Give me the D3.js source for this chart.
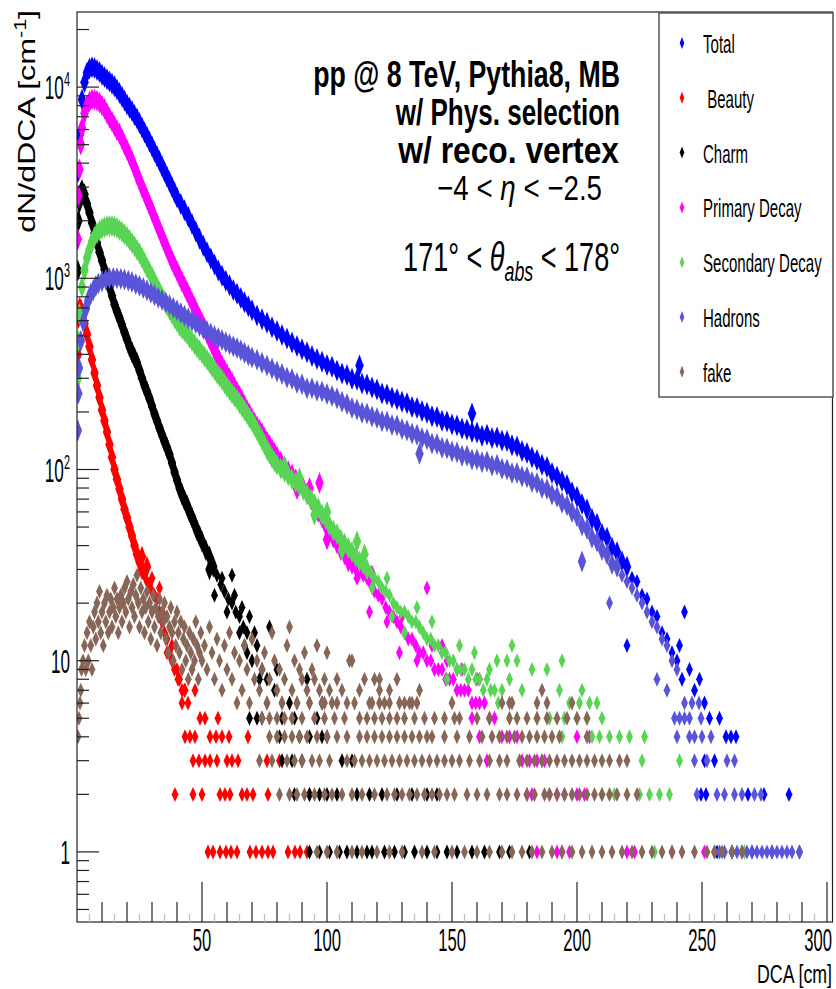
<!DOCTYPE html>
<html>
<head>
<meta charset="utf-8">
<script src="https://cdn.jsdelivr.net/npm/d3@7"></script>
<style>
  body { margin: 0; background: #fff; }
  svg { display: block; font-family: "Liberation Sans", Arial, sans-serif; }
</style>
</head>
<body>
<svg id="chart" width="836" height="989"></svg>
<script>
// legend order = drawing order
const seriesNames = ["Total", " Beauty", "Charm", "Primary Decay", "Secondary Decay", "Hadrons", "fake"];
const seriesColors = ["#0000ff", "#ff0000", "#000000", "#ff00ff", "#59d454", "#5954d8", "#876657"];

// [DCA (cm), dN/dDCA]
const totalPts = [[0.3,3600],[1,5600],[2,8600],[3,10600],[4,11900],[5,12500],[6,12700],[7,12600],[8,12300],[9,12000],[10,11600],[11,11300],[12,11000],[13,10700],[14,10400],[15,10100],[16,9700],[17,9300],[18,8900],[19,8500],[20,8100],[21,7800],[22,7500],[23,7150],[24,6850],[25,6500],[26,6150],[27,5800],[28,5500],[29,5200],[30,4900],[31,4600],[32,4350],[33,4100],[34,3850],[35,3620],[36,3400],[37,3200],[38,3000],[39,2820],[40,2650],[41.5,2450],[43,2270],[44.5,2100],[46,1920],[47.5,1760],[49,1610],[50.5,1480],[52,1370],[53.5,1270],[55,1180],[56.5,1100],[58,1030],[59.5,970],[61,920],[62.5,870],[64,830],[65.5,790],[67,750],[68.5,715],[70,680],[72,640],[74,610],[76,585],[78,555],[80,530],[82,505],[84,485],[86,462],[88,442],[90,425],[92,410],[94,392],[96,378],[98,366],[100,352],[102,345],[104,330],[106,318],[108,312],[110,298],[112,295],[113,350],[114,282],[116,278],[118,268],[120,262],[122,250],[124,247],[126,238],[128,233],[130,226],[132,222],[134,212],[136,210],[138,202],[140,198],[142,190],[144,188],[146,180],[148,178],[150,172],[152,170],[154,164],[156,162],[158,157],[158,196],[160,156],[162,150],[164,152],[166,146],[168,147],[170,142],[172,141],[174,134],[176,132],[178,125],[180,122],[182,116],[184,112],[186,106],[188,103],[190,96],[192,92],[194,87],[196,83],[198,76],[200,72],[202,66],[204,62],[206,55],[208,52],[210,46],[212,44],[214,39],[216,37],[218,33],[220,31],[220,12],[222,27],[224,26],[226,22],[228,21],[230,18],[232,17],[234,14],[236,13],[238,11],[240,10],
  [241,12],[243,18],[242,8],[245,9],[247,7],[249,8],[251,6],[253,5],[257,5],[259.6,4],[261.6,4],[263.6,4],[251,3],[255,3],[249.6,2],[251.6,2],[268.4,2],[274.8,2],[284.8,2],[256,1],[262,1],[270,1],[278,1],[289,1]];

const beautyPts = [[0.3,400],[0.6,620],[1,700],[1.5,690],[2,650],[3,580],[4,510],[5,440],[6,375],[7,320],[8,275],[9,238],[10,205],[11,180],[12,157],[13,135],[14,116],[15,100],[16,89],[17,79],[18,70],[19,62],[20,56],[21,50],[22,45],[23,40],[24,36],[25,33],[26,30],[26,35],[27,28],[28,26],[28,31],[29,25],[30,23],[30,27],[31,22],[32,21],[33,18],[33,24],[34,16],[35,14],[35,17],[36,13],[36,11],[37,11],[38,10],[38,12],[39,9],[40,9],[40.4,8],[41,8],[42,7],[43,7],
  [42,6],[44.4,6],[43.2,7],[47.2,7],[49.2,5],[51.2,5],[56.4,5],
  [43.2,4],[45.2,4],[47.2,4],[53.2,4],[55.6,4],[58,4],[60.8,4],[68.4,4],
  [46.4,3],[48.8,3],[51.2,3],[53.2,3],[56,3],[60,3],[62,3],[64.4,3],[76,3],[81,3],
  [39.2,2],[46.4,2],[50,2],[57.2,2],[59.2,2],[61.2,2],[66,2],[68,2],[70.4,2],[76.4,2],[93,2],
  [52.4,1],[54.4,1],[57.2,1],[59.6,1],[61.6,1],[64,1],[69.2,1],[71.6,1],[74,1],[76.4,1],[78.4,1],[84.4,1],[87.2,1],[89.2,1],[92,1]];

const charmPts = [[0.3,1100],[0.6,2000],[1,2500],[1.5,2800],[2,2900],[3,2750],[4,2450],[5,2200],[6,1950],[7,1720],[8,1530],[9,1370],[10,1240],[11,1110],[12,1000],[13,900],[14,810],[15,730],[16,670],[17,620],[18,570],[19,520],[20,480],[21,440],[22,410],[23,385],[24,360],[25,330],[26,300],[27,275],[28,255],[29,235],[30,215],[31,195],[32,180],[33,165],[34,152],[35,140],[36,130],[37,120],[38,108],[39,97],[40,88],[41,80],[42,74],[43,69],[44,65],[45,60],[46,56],[47,52],[48,48],[49,45],[50,42],[51.5,38],[53,35],[53,30],[54.5,31],[55,22],[56,28],[57.5,25],[58,27],[59,23],[60,18],[60.5,21],[62,20],[62,28],[63,22],[63.5,18],[65,17],[65,14],[66,19],[66.5,15],[67,12],[68,14],[69,17],[70,10],[71,14],[72,12],[73,8],
  [77,15],[68,11],[74,9],[76,8],[79,7],[80,9],[92,8],[85,6],[98,6],[69,5],[72,5],[74,5],[82,5],[87,5],[96,5],[81,4],[89,4],[93,4],[98,4],[100,4],
  [82,3],[86,3],[90,3],[106,3],[110,3],
  [87,2],[93,2],[97,2],[100,2],[104,2],[112,2],[117,2],[122,2],[128,2],[134,2],[140,2],[144,2],
  [93,1],[97,1],[101,1],[105,1],[108,1],[112,1],[116,1],[118,1],[123,1],[127,1],[131,1],[135,1],[140,1],[144,1],[148,1],[152,1],[158,1],[163,1],[169,1],[173,1],[181,1]];

const primaryPts = [[0.3,1600],[0.6,2700],[1,3700],[1.5,5000],[2,6100],[3,7300],[4,8000],[5,8400],[6,8600],[7,8600],[8,8500],[9,8300],[10,8000],[11,7700],[12,7300],[13,6900],[14,6600],[15,6250],[16,5950],[17,5700],[18,5350],[19,5000],[20,4700],[21,4400],[22,4100],[23,3800],[24,3500],[25,3250],[26,3000],[27,2800],[28,2600],[29,2420],[30,2250],[31,2080],[32,1930],[33,1790],[34,1660],[35,1540],[36,1430],[37,1330],[38,1240],[39,1160],[40,1090],[41,1020],[42,960],[43,905],[44,850],[45,800],[46,750],[47,705],[48,660],[49,620],[50,585],[51,550],[52,515],[53,482],[54,450],[55,420],[56,395],[57,372],[58,350],[59,332],[60,315],[61,300],[62,285],[63,270],[64,255],[65,242],[66,230],[67,217],[68,205],[69,195],[70,185],[71,176],[72,168],[73,161],[74,155],[75,147],[76,140],[77,134],[78,128],[79,122],[80,117],[81.5,110],[83,104],[84.5,98],[86,94],[87.5,89],[88,79],[89,85],[90.5,80],[92,75],[93,80],[93.5,70],[95,64],[96.5,60],[97,85],[98,56],[99.5,51],[100,43],[101,47],[102.5,44],[104,41],[105.5,38],[106,41],[107,36],[108.5,33],[110,32],[111.5,31],[112,27],[113,30],[114.5,28],[116,27],[117,18],[117.5,25],[118,29],[119,23],[120.5,22],[122,21],[123.5,19],[124,16],[125,18],[126.5,17],[128,16],[129,11],[129.5,15],[130,17],[131,14],[132.5,13],[134,13],[135.5,12],[136,10],[137,11],[138.5,11],[140,10],[140,24],[141.5,10],[142,12],[143,9],[144.5,9],[146,9],[146,12],[147.5,8],[148,10],[149,8],[150.5,8],[152,7],[152,9],[153.5,7],[154,9],[155,7],[156.5,7],[158,6],[159.5,6],[160,8],[161,6],[161,8],[163,6],[165,5],
  [158,5],[167,5],[161,4],[170,4],[173,4],[176,4],[200,4],[205,4],
  [164,3],[178,3],[181,3],[184,3],[187,3],
  [180,2],[182,2],[189,2],[192,2],[195,2],[200,2],[203,2],
  [184,1],[192,1],[194,1],[197,1],[220,1],[223,1],[238,1],[251,1]];

const secondaryPts = [[0.3,300],[0.6,470],[1,650],[2,900],[3,1100],[4,1280],[5,1420],[6,1550],[7,1650],[8,1720],[9,1780],[10,1820],[11,1850],[12,1870],[13,1880],[14,1880],[15,1860],[16,1830],[17,1790],[18,1750],[19,1700],[20,1650],[21,1590],[22,1530],[23,1470],[24,1410],[25,1350],[26,1280],[27,1210],[28,1140],[29,1080],[30,1020],[31,960],[32,900],[33,850],[34,800],[35,760],[36,720],[37,685],[38,650],[39,620],[40,590],[41,565],[42,545],[43,528],[44,510],[45,490],[46,470],[47,452],[48,435],[49,420],[50,405],[51,390],[52,375],[53,360],[54,345],[55,332],[56,318],[57,306],[58,295],[59,282],[60,270],[61,260],[62,250],[63,241],[64,232],[65,222],[66,212],[67,204],[68,195],[69,186],[70,178],[71,169],[72,160],[73,151],[74,143],[75,135],[76,127],[77,121],[78,115],[79,110],[80,106],[81.5,101],[83,97],[83,104],[84.5,93],[86,89],[87.5,86],[89,82],[89,90],[90.5,78],[92,74],[93.5,70],[95,66],[95,58],[96.5,63],[98,58],[99.5,55],[100,60],[101,51],[102.5,48],[104,46],[105.5,43],[106,38],[107,41],[108.5,39],[110,37],[111.5,35],[112,42],[113,33],[114.5,32],[115,36],[116,30],[117.5,29],[118,24],[119,27],[120.5,26],[122,24],[123.5,23],[124,27],[125,22],[126,17],[126.5,20],[128,19],[129.5,18],[131,18],[131,14],[132.5,17],[134,16],[135.5,16],[136,19],[137,15],[138.5,14],[140,13],[141.5,13],[142,16],[143,12],[144.5,12],[146,11],[147.5,11],[148,8],[149,10],[150.5,10],[152,9],[153,12],[153.5,9],[155,9],[156.5,8],[158,9],[159,11],[159.5,8],[161,8],[162.5,7],[164,8],[165,9],[165.5,7],[167,7],[168,10],[168.5,6],[170,7],
  [174,12],[172,10],[176,10],[182,9],[188,9],[194,10],[173,8],[178,7],[193,7],[202,7],[197,6],[201,6],[205,6],[208,6],[184,5],[189,5],[195,5],[200,5],[204,5],[210,5],
  [194,4],[206,4],[209,4],[213,4],[217,4],[221,4],[227,4],[186,3],[226,3],[241,3],
  [210,2],[215,2],[225,2],[229,2],[233,2],[237,2],[231,1],[267,1]];

const hadronPts = [[0.3,160],[0.5,250],[0.8,340],[1.5,470],[2.5,590],[3.5,690],[4.5,770],[5.5,830],[6.5,870],[7.5,910],[8.5,940],[10,965],[11.5,985],[13,1000],[14.5,1005],[16,1000],[17.5,995],[19,985],[20.5,970],[22,955],[23.5,935],[25,915],[26.5,890],[28,865],[29.5,840],[31,815],[32.5,792],[34,770],[35.5,748],[37,725],[38.5,702],[40,680],[41.5,658],[43,637],[44.5,618],[46,600],[47.5,582],[49,563],[50.5,545],[52,530],[53.5,515],[55,500],[56.5,488],[58,475],[59.5,463],[61,452],[62.5,441],[64,432],[65.5,420],[67,408],[68.5,396],[70,385],[72,375],[74,362],[76,350],[78,338],[80,325],[82,316],[84,303],[86,297],[88,283],[90,279],[92,266],[94,266],[96,258],[98,256],[100,248],[102,242],[104,236],[106,226],[108,220],[110,210],[112,206],[114,198],[116,196],[118,189],[120,186],[122,179],[124,178],[126,171],[128,170],[130,163],[132,160],[134,154],[136,152],[137,121],[138,146],[140,144],[142,137],[144,136],[146,130],[148,129],[150,124],[152,123],[154,118],[156,118],[158,113],[160,113],[162,109],[164,110],[166,105],[168,106],[170,101],[172,100],[174,96],[176,96],[178,92],[180,91],[182,86],[184,85],[186,80],[188,79],[190,74],[192,72],[194,67],[196,65],[198,60],[200,57],[202,51],[202,33],[204,49],[206,44],[208,42],[210,38],[212,36],[213,20],[214,32],[216,31],[218,28],[220,26],[222,24],[224,22],[226,20],[228,18],[230,16],[232,15],[234,13],[236,12],[238,10],[240,9],
  [232,8],[236,7],[243,6],[246,6],[248.8,6],[239,5],[241,5],[243,5],[245,5],[249.6,5],[240,4],[245,4],[247,4],[250,4],[253.6,4],[247,3],[252,3],[260,3],[263,3],
  [248,2],[256,2],[259,2],[263,2],[266,2],[271,2],[273.6,2],
  [255,1],[257,1],[259,1],[262,1],[264,1],[266,1],[268,1],[270,1],[272,1],[274,1],[276,1],[278,1],[280,1],[282,1],[284,1],[286,1],[289,1]];

const fakeCloud = [[0.4,4],[0.8,5],[1.2,6],[1.5,7],[1.8,9],[2.4,10],[3,12],[3.5,9],[4,14],[4.5,10],[5,16],[5.5,12],[6,9],[6.5,15],[7,18],[7.5,13],[8,20],[8.5,16],[9,23],[9.5,14],[10,18],[10.5,12],[11,20],[11.5,16],[12,22],[12.5,14],[13,18],[13.5,21],[14,15],[14.5,19],[15,24],[15.5,17],[16,21],[16.5,14],[17,19],[17.5,22],[18,16],[18.5,20],[19,24],[19.5,18],[20,26],[20.5,21],[21,15],[21.5,23],[22,19],[22.5,25],[23,17],[23.5,22],[24,28],[24.5,20],[25,15],[25.5,24],[26,18],[26.5,21],[27,14],[27.5,19],[28,23],[28.5,16],[29,20],[29.5,13],[30,18],[30.5,22],[31,15],[31.5,19],[32,12],[32.5,17],[33,21],[33.5,14],[34,18],[34.5,16],[35,20],[35.5,13],[36,17],[36.5,11],[37,15],[37.5,19],[38,14],[38.5,10],[39,16],[39.5,12],[40,18],[40.5,14],[41,11],[41.5,16],[42,9],[42.5,13],[43,15],[43.5,10],[44,12],[44.5,8],[45,14],[45.5,11],[46,9],[46.5,13],[47,10],[47.5,16],[48,12],[48.5,8],[49,11],[49.5,14],[50,10],[51,12],[52,9],[53,15],[54,11],[55,8],[56,13],[57,10],[58,7],[59,12],[60,9],[61,14],[62,8],[63,11],[64,6],[65,10],[66,7],[67,12],[68,9],[69,6],[70,13],[71,8],[72,10],[73,7],[74,9],[75,11],[76,6],[77,8],[78,14],[79,10],[80,7],[81,9],[82,6],[83,8],[84,12],[85,15],[86,7],[87,10],[88,6],[89,9],[90,8],[91,11],[92,7],[93,6],[94,9],[95,8],[96,12],[97,7],[98,6],[99,8],[100,11],[101,7],[102,6],[104,8],[106,7],[108,6],[109,10],[110,10],[111,6],[113,7],[115,8],[117,6],[119,8],[121,7],[121,8],[123,6],[125,7],[128,8],[131,6],[134,6],[137,7],[173,6],[186,7],[188,6],[198,6]];
const fakeSixes = [76, 82, 88, 93, 99, 104, 118, 121, 125, 129, 133, 136, 150, 170, 174, 184];
const fakeFives = [74, 77, 80, 83, 86, 90, 95, 99, 103, 107, 113, 116, 119, 122, 125, 128, 131, 135, 139, 143, 147, 151, 153, 160, 165, 173, 176, 180, 184, 188, 192, 196, 200, 204];
const fakeFours = [77, 80, 83, 86, 89, 92, 96, 100, 104, 108, 113, 116, 119, 122, 125, 128, 131, 134, 137, 140, 142, 147, 152, 157, 162, 166, 169, 172, 175, 178, 181, 184, 187, 190, 193, 204];
const fakeThrees = [73, 78, 84, 87, 90, 94, 97, 101, 108, 111, 114, 117, 120, 123, 126, 129, 132, 135, 138, 141, 144, 147, 150, 153, 157, 161, 165, 169, 172, 177, 180, 183, 186, 189, 192, 195, 198, 201, 204, 207, 210, 213, 217, 220];
const fakeTwos = [81, 85, 88, 91, 95, 99, 102, 106, 110, 114, 119, 124, 127, 130, 133, 136, 139, 142, 145, 148, 151, 156, 160, 164, 169, 172, 176, 180, 183, 187, 189, 192, 195, 198, 201, 204, 207, 210, 213, 216, 220, 224];
const fakeOnes = [96, 100, 104, 110, 114, 120, 125, 130, 138, 143, 150, 155, 160, 165, 170, 174, 178, 182, 186, 190, 194, 198, 202, 206, 210, 214, 218, 222, 226, 230, 234, 238, 242, 247, 252, 255, 258, 262, 266];

const xTickValues = [50, 100, 150, 200, 250, 300];
const xTickLabels = ["50", "100", "150", "200", "250", "300"];
const yTickValues = [1, 10, 100, 1000, 10000];
const yTickBase = ["1", "10", "10", "10", "10"];
const yTickExp = ["", "", "2", "3", "4"];

const fakePts = fakeCloud.concat(
  fakeSixes.map(d => [d, 6]), fakeFives.map(d => [d, 5]), fakeFours.map(d => [d, 4]),
  fakeThrees.map(d => [d, 3]), fakeTwos.map(d => [d, 2]), fakeOnes.map(d => [d, 1]));
const seriesPts = [totalPts, beautyPts, charmPts, primaryPts, secondaryPts, hadronPts, fakePts];

const svg = d3.select("#chart");
const frame = { left: 77, top: 12, right: 832.5, bottom: 922 };

const x = d3.scaleLinear().domain([0, 302.2]).range([frame.left, frame.right]);
const y = d3.scaleLog().domain([0.43, 24700]).range([frame.bottom, frame.top]);

// text helper: squeeze horizontally to the width measured on the picture
function addText(parent, x0, y0, size, build, opts = {}) {
  const g = parent.append("g");
  const t = g.append("text")
    .attr("text-anchor", opts.anchor || "start")
    .style("font-size", size + "px")
    .style("font-weight", opts.bold ? "bold" : "normal");
  build(t);
  let sx = opts.sx || 1;
  if (opts.width) sx = opts.width / t.node().getBBox().width;
  const rot = opts.rotate ? ` rotate(${opts.rotate})` : "";
  g.attr("transform", `translate(${x0},${y0})${rot} scale(${sx},1)`);
  return g;
}

svg.append("clipPath").attr("id", "plotClip")
  .append("rect")
  .attr("x", frame.left).attr("y", frame.top)
  .attr("width", frame.right - frame.left).attr("height", frame.bottom - frame.top);

// markers: the high-count bins sit so close together that they merge into a band
const diamond = "M0,-7.5L3.4,0L0,7.5L-3.4,0Z";
const bandDiamond = "M0,-11L4.2,0L0,11L-4.2,0Z";
const plot = svg.append("g").attr("clip-path", "url(#plotClip)");
seriesPts.forEach((pts, i) => {
  plot.append("g").attr("fill", seriesColors[i])
    .selectAll("path")
    .data(pts)
    .join("path")
    .attr("d", d => d[1] >= 30 ? bandDiamond : diamond)
    .attr("transform", d => `translate(${x(d[0]).toFixed(1)},${y(d[1]).toFixed(1)})`);
});

// frame
svg.append("rect")
  .attr("x", frame.left).attr("y", frame.top)
  .attr("width", frame.right - frame.left).attr("height", frame.bottom - frame.top)
  .attr("fill", "none").attr("stroke", "#222").attr("stroke-width", 1.2);

// y ticks (log)
const yTicks = svg.append("g").attr("stroke", "#222").attr("stroke-width", 1.2);
y.ticks().forEach(v => {
  const major = Math.abs(Math.log10(v) - Math.round(Math.log10(v))) < 1e-9;
  yTicks.append("line")
    .attr("x1", frame.left).attr("x2", frame.left + (major ? 22 : 12))
    .attr("y1", y(v)).attr("y2", y(v));
});

// x ticks
const xTicks = svg.append("g").attr("stroke", "#222").attr("stroke-width", 1.2);
d3.range(5, 301, 5).forEach(v => {
  const len = v % 50 === 0 ? 40 : v % 10 === 0 ? 20 : 8;
  xTicks.append("line")
    .attr("x1", x(v)).attr("x2", x(v))
    .attr("y1", frame.bottom).attr("y2", frame.bottom - len)
    .attr("stroke", len === 8 ? "#bbb" : "#222");
});

// tick labels (last one pulled inside the canvas, as on the picture)
xTickValues.forEach((v, i) => {
  const last = i === xTickValues.length - 1;
  addText(svg, last ? 832 : x(v), 951, 32, t => t.text(xTickLabels[i]),
    { anchor: last ? "end" : "middle", sx: 0.52 });
});
yTickValues.forEach((v, i) => {
  addText(svg, 70, y(v) + 12, 33, t => {
    t.append("tspan").text(yTickBase[i]);
    if (yTickExp[i]) t.append("tspan").attr("dy", -13).style("font-size", "21px").text(yTickExp[i]);
  }, { anchor: "end", sx: 0.52 });
});

// axis titles
addText(svg, 832, 983, 26, t => t.text("DCA [cm]"), { anchor: "end", width: 75 });
addText(svg, 35, 10, 24, t => {
  t.append("tspan").text("dN/dDCA [cm");
  t.append("tspan").attr("dy", -9).style("font-size", "16px").text("-1");
  t.append("tspan").attr("dy", 9).text("]");
}, { anchor: "end", rotate: -90, width: 223 });

// annotation block
addText(svg, 620, 87, 37, t => t.text("pp @ 8 TeV, Pythia8, MB"), { anchor: "end", bold: true, width: 307 });
addText(svg, 620, 125, 37, t => t.text("w/ Phys. selection"), { anchor: "end", bold: true, width: 225 });
addText(svg, 619, 163, 37, t => t.text("w/ reco. vertex"), { anchor: "end", bold: true, width: 222 });
addText(svg, 602, 200, 35, t => {
  t.append("tspan").text("\u22124 < ");
  t.append("tspan").style("font-style", "italic").text("\u03b7");
  t.append("tspan").text(" < \u22122.5");
}, { anchor: "end", width: 165 });
addText(svg, 620, 271, 41, t => {
  t.append("tspan").text("171\u00b0 < ");
  t.append("tspan").style("font-style", "italic").text("\u03b8");
  t.append("tspan").attr("dy", 10).style("font-style", "italic").style("font-size", "27px").text("abs");
  t.append("tspan").attr("dy", -10).text(" < 178\u00b0");
}, { anchor: "end", width: 217 });

// legend
const legend = svg.append("g");
legend.append("rect")
  .attr("x", 659).attr("y", 13).attr("width", 174).attr("height", 384)
  .attr("fill", "#fff").attr("stroke", "#555").attr("stroke-width", 1.5);
const legendMarker = "M0,-6L2.3,0L0,6L-2.3,0Z";
seriesNames.forEach((name, i) => {
  const cy = 43 + i * 54.8;
  legend.append("path").attr("d", legendMarker).attr("fill", seriesColors[i])
    .attr("transform", `translate(682,${cy})`);
  addText(legend, 703, cy + 10, 25.5, t => t.attr("xml:space", "preserve").text(name), { sx: 0.59 });
});
</script>
</body>
</html>
